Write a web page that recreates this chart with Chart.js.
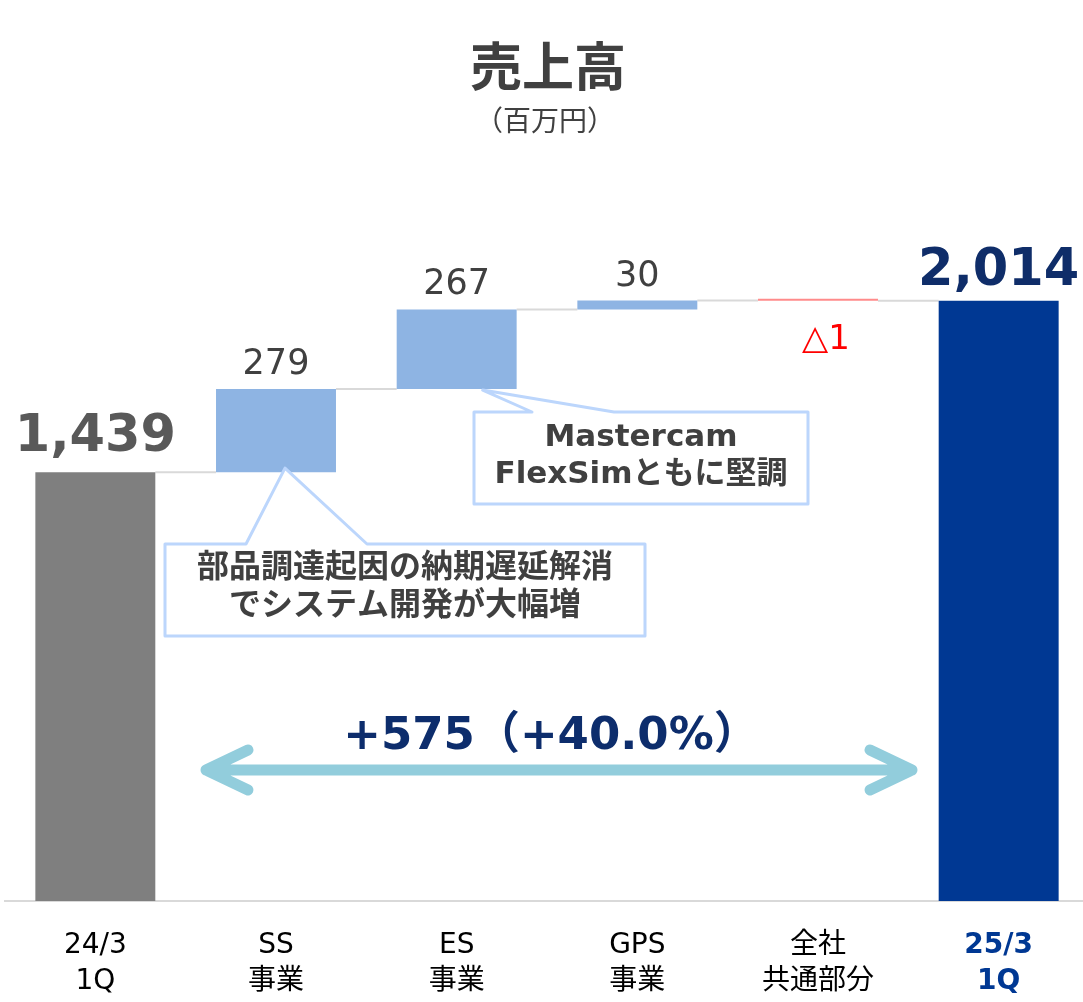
<!DOCTYPE html>
<html>
<head>
<meta charset="utf-8">
<script src="https://cdn.jsdelivr.net/npm/chart.js@4/dist/chart.umd.min.js"></script>
<style>
    html, body { margin: 0; padding: 0; background: #fff; overflow: hidden; }
    #sales_chart { display: block; }
</style>
</head>
<body>
<canvas id="sales_chart" width="1089" height="1002"></canvas>
<script>
// values in 百万円
const categories = [
    ['24/3', '1Q'],
    ['SS', '事業'],
    ['ES', '事業'],
    ['GPS', '事業'],
    ['全社', '共通部分'],
    ['25/3', '1Q']
];
const startValue = 1439;
const changes = [279, 267, 30, -1];
const endValue = 2014;
const yMax = 3000;

const barColors = ['#7F7F7F', '#8EB4E3', '#8EB4E3', '#8EB4E3', '#FF8B8B', '#003893'];
const FONT = "'DejaVu Sans', 'Noto Sans CJK JP', sans-serif";

// floating bars: [from, to]
const floating = [[0, startValue]];
let running = startValue;
changes.forEach(c => {
    floating.push([running, running + c]);
    running += c;
});
floating.push([0, endValue]);

const formatValue = (v, i) => {
    if (i === 0 || i === floating.length - 1) return v.toLocaleString('en-US');
    return v < 0 ? '△' + Math.abs(v) : String(v);
};
const barValues = [startValue, ...changes, endValue];

const callouts = [
    { bar: 1, box: [165, 544, 645, 636], base: [246, 367], tip: [9, -4], size: 32,
      lines: ['部品調達起因の納期遅延解消', 'でシステム開発が大幅増'], lineY: [569, 607] },
    { bar: 2, box: [474, 412, 808, 504], base: [532, 614], tip: [26, 1], size: 31,
      lines: ['Mastercam', 'FlexSimともに堅調'], lineY: [438, 475] }
];

const waterfallPlugin = {
    id: 'waterfall',
    beforeDatasetsDraw(chart) {
        const ctx = chart.ctx;
        const y = chart.scales.y;
        const bars = chart.getDatasetMeta(0).data;
        ctx.save();
        ctx.strokeStyle = '#D9D9D9';
        ctx.lineWidth = 2;
        for (let i = 0; i < bars.length - 1; i++) {
            const level = y.getPixelForValue(floating[i][1]);
            const next = i + 1 < bars.length - 1 ? floating[i + 1][0] : floating[i + 1][1];
            ctx.beginPath();
            ctx.moveTo(bars[i].x + bars[i].width / 2, level);
            ctx.lineTo(bars[i + 1].x - bars[i + 1].width / 2, y.getPixelForValue(next));
            ctx.stroke();
        }
        ctx.restore();
    },
    afterDatasetsDraw(chart) {
        const ctx = chart.ctx;
        const bars = chart.getDatasetMeta(0).data;
        const last = bars.length - 1;
        ctx.save();
        ctx.textAlign = 'center';
        bars.forEach((bar, i) => {
            const v = barValues[i];
            const top = Math.min(bar.y, bar.base);
            const bottom = Math.max(bar.y, bar.base);
            if (i === 0 || i === last) {
                ctx.font = 'bold 51px ' + FONT;
                ctx.fillStyle = i === 0 ? '#595959' : '#0F2D69';
                ctx.textBaseline = 'alphabetic';
                ctx.fillText(formatValue(v, i), bar.x, top - (i === 0 ? 21 : 16));
            } else if (v < 0) {
                ctx.font = '34px ' + FONT;
                ctx.fillStyle = '#FF0000';
                ctx.textBaseline = 'top';
                ctx.fillText(formatValue(v, i), bar.x + 8, bottom + 22);
            } else {
                ctx.font = '35px ' + FONT;
                ctx.fillStyle = '#404040';
                ctx.textBaseline = 'alphabetic';
                ctx.fillText(formatValue(v, i), bar.x, top - 15);
            }
        });
        ctx.restore();
    },
    afterDraw(chart) {
        const ctx = chart.ctx;
        const bars = chart.getDatasetMeta(0).data;
        ctx.save();

        // title
        ctx.textAlign = 'center';
        ctx.textBaseline = 'middle';
        ctx.fillStyle = '#404040';
        ctx.font = "bold 52px 'Noto Sans CJK JP', sans-serif";
        ctx.fillText('売上高', 548, 66);
        ctx.font = "28px 'Noto Sans CJK JP', sans-serif";
        ctx.fillText('（百万円）', 545, 120);

        // callouts
        callouts.forEach(c => {
            const bar = bars[c.bar];
            const tipX = bar.x + c.tip[0];
            const tipY = Math.max(bar.y, bar.base) + c.tip[1];
            const [l, t, r, b] = c.box;
            ctx.beginPath();
            ctx.moveTo(l, t);
            ctx.lineTo(c.base[0], t);
            ctx.lineTo(tipX, tipY);
            ctx.lineTo(c.base[1], t);
            ctx.lineTo(r, t);
            ctx.lineTo(r, b);
            ctx.lineTo(l, b);
            ctx.closePath();
            ctx.fillStyle = '#FFFFFF';
            ctx.fill();
            ctx.lineWidth = 3;
            ctx.lineJoin = 'round';
            ctx.strokeStyle = '#BCD6FC';
            ctx.stroke();
            ctx.fillStyle = '#404040';
            ctx.font = 'bold ' + c.size + 'px ' + FONT;
            c.lines.forEach((line, k) => ctx.fillText(line, (l + r) / 2, c.lineY[k]));
        });

        // total change arrow
        const diff = endValue - startValue;
        const pct = (diff / startValue * 100).toFixed(1);
        ctx.strokeStyle = '#92CDDC';
        ctx.lineWidth = 11;
        ctx.lineCap = 'round';
        ctx.lineJoin = 'round';
        const ay = 770, ax1 = 206, ax2 = 912;
        ctx.beginPath();
        ctx.moveTo(ax1, ay); ctx.lineTo(ax2, ay);
        ctx.moveTo(ax1 + 42, ay - 20); ctx.lineTo(ax1, ay); ctx.lineTo(ax1 + 42, ay + 20);
        ctx.moveTo(ax2 - 42, ay - 20); ctx.lineTo(ax2, ay); ctx.lineTo(ax2 - 42, ay + 20);
        ctx.stroke();
        ctx.fillStyle = '#0D2D6C';
        ctx.font = 'bold 45px ' + FONT;
        ctx.textBaseline = 'alphabetic';
        ctx.fillText('+' + diff + '（+' + pct + '%）', 551, 749);

        ctx.restore();
    }
};

const onload = () => {
    const ctx = document.getElementById('sales_chart').getContext('2d');
    new Chart(ctx, {
        type: 'bar',
        data: {
            labels: categories,
            datasets: [{
                data: floating,
                backgroundColor: barColors,
                borderWidth: 0,
                categoryPercentage: 1,
                barPercentage: 0.664,
                minBarLength: 2
            }]
        },
        options: {
            responsive: false,
            animation: false,
            layout: { padding: { top: 7, left: 5, right: 0, bottom: 0 } },
            plugins: {
                legend: { display: false },
                tooltip: { enabled: false }
            },
            scales: {
                x: {
                    grid: { display: false, drawTicks: false },
                    border: { display: true, color: '#D9D9D9', width: 2 },
                    afterFit: (scale) => { scale.height = 101; },
                    ticks: {
                        padding: 27,
                        maxRotation: 0,
                        autoSkip: false,
                        color: (c) => c.index === categories.length - 1 ? '#003893' : '#000000',
                        font: (c) => ({
                            family: FONT,
                            size: 28,
                            lineHeight: 1.29,
                            weight: c.index === categories.length - 1 ? 'bold' : 'normal'
                        })
                    }
                },
                y: {
                    display: false,
                    min: 0,
                    max: yMax
                }
            }
        },
        plugins: [waterfallPlugin]
    });
};

document.addEventListener('DOMContentLoaded', onload);
</script>
</body>
</html>
